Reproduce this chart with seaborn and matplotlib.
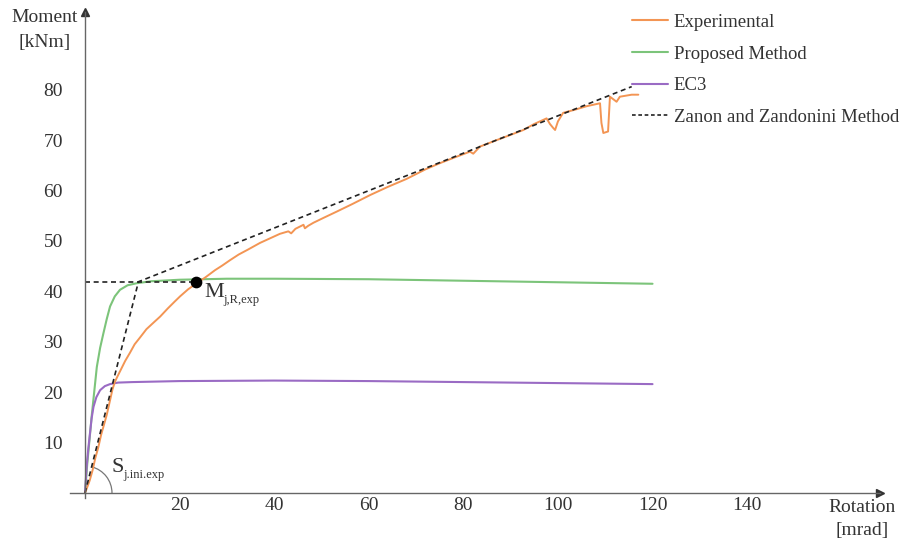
import numpy as np
import pandas as pd
import matplotlib
matplotlib.use("Agg")
import matplotlib.pyplot as plt
from matplotlib.lines import Line2D
from matplotlib.patches import Arc
from matplotlib.ticker import MultipleLocator
import seaborn as sns

# ---------------- data ----------------
exp_rot = [0, 0.5, 1.0, 1.6, 2.2, 2.8, 3.4, 4.0, 4.6, 5.3, 5.8, 6.3, 6.8, 7.6, 8.5,
           9.5, 10.5, 11.6, 13.0, 14.5, 15.9, 17.5, 19.0, 20.1, 21.8, 23.6, 25.5,
           27.5, 29.0, 30.7, 32.5, 34.5, 37.0, 39.1, 41.2, 43.0, 43.6, 44.5, 46.2,
           46.5, 47.2, 48.3, 50.5, 53.2, 56.5, 60.3, 64.0, 68.0, 72.0, 75.0, 78.0,
           81.4, 82.1, 83.5, 86.5, 89.9, 92.7, 95.0, 97.6, 98.3, 99.0, 99.4, 100.0,
           101.1, 103.5, 106.0, 108.9, 109.2, 109.6, 110.6, 111.0, 112.4, 113.1,
           115.6, 117.0]
exp_mom = [0, 1.2, 2.5, 4.5, 7.0, 9.0, 11.5, 13.5, 15.5, 18.4, 20.5, 22.0, 23.0,
           24.5, 26.2, 27.8, 29.5, 30.8, 32.5, 33.8, 35.0, 36.6, 38.0, 39.0, 40.4,
           41.6, 42.8, 44.2, 45.1, 46.2, 47.3, 48.3, 49.6, 50.5, 51.4, 51.9, 51.5,
           52.4, 53.2, 52.5, 53.0, 53.6, 54.6, 55.8, 57.3, 59.1, 60.7, 62.3, 64.2,
           65.4, 66.5, 67.7, 67.3, 68.7, 69.8, 71.0, 72.0, 73.2, 74.3, 73.2, 72.4,
           72.0, 73.7, 75.4, 76.0, 76.7, 77.3, 73.4, 71.4, 71.7, 78.6, 77.6, 78.6,
           79.0, 79.0]

prop_rot = [0, 0.5, 1.0, 1.4, 2.0, 2.5, 3.2, 3.9, 4.6, 5.3, 6.3, 7.4, 9.0, 10.9,
            14.0, 20.0, 30.0, 40.0, 60.0, 80.0, 100.0, 120.0]
prop_mom = [0, 6.0, 11.0, 15.1, 20.5, 25.0, 28.8, 31.7, 34.5, 37.0, 39.0, 40.3,
            41.2, 41.6, 42.0, 42.3, 42.5, 42.5, 42.4, 42.1, 41.8, 41.5]

ec3_rot = [0, 0.35, 0.7, 1.06, 1.4, 1.8, 2.4, 3.2, 4.2, 5.3, 7.0, 10.0, 20.0,
           40.0, 60.0, 80.0, 100.0, 120.0]
ec3_mom = [0, 5.2, 8.8, 11.9, 14.8, 17.1, 19.0, 20.4, 21.2, 21.6, 21.9, 22.0,
           22.2, 22.3, 22.2, 22.0, 21.8, 21.6]

zz_rot = [0, 11.3, 115.6]
zz_mom = [0, 41.9, 80.6]
mjr_rot = [0, 23.5]
mjr_mom = [41.9, 41.9]
mjr_point = (23.5, 41.8)

labels = ["Experimental", "Proposed Method", "EC3", "Zanon and Zandonini Method"]
x_ticks = [20, 40, 60, 80, 100, 120, 140]
y_ticks = [10, 20, 30, 40, 50, 60, 70, 80]

# ---------------- style ----------------
sns.set_style("white")
plt.rcParams["font.family"] = ["Liberation Serif", "DejaVu Serif"]

c_exp = "#F39554"
c_prop = "#7CC47A"
c_ec3 = "#9A6BC4"
c_axis = "#666666"
c_text = "#333333"

W, H = 906, 542
fig = plt.figure(figsize=(W / 100, H / 100), dpi=100)
# axes box in pixels: left 70, right 880, bottom 498, top 12
ax = fig.add_axes([70 / W, (H - 498) / H, 810 / W, 486 / H])
ax.set_xlim(-3.17, 168.1)
ax.set_ylim(-0.99, 95.4)

df_exp = pd.DataFrame({"rot": exp_rot, "mom": exp_mom})
df_prop = pd.DataFrame({"rot": prop_rot, "mom": prop_mom})
df_ec3 = pd.DataFrame({"rot": ec3_rot, "mom": ec3_mom})
df_zz = pd.DataFrame({"rot": zz_rot, "mom": zz_mom})
df_mjr = pd.DataFrame({"rot": mjr_rot, "mom": mjr_mom})

dash = (3.0, 2.2)
sns.lineplot(data=df_prop, x="rot", y="mom", ax=ax, color=c_prop, lw=1.5,
             sort=False, estimator=None)
sns.lineplot(data=df_ec3, x="rot", y="mom", ax=ax, color=c_ec3, lw=1.5,
             sort=False, estimator=None)
sns.lineplot(data=df_exp, x="rot", y="mom", ax=ax, color=c_exp, lw=1.4,
             sort=False, estimator=None)
sns.lineplot(data=df_zz, x="rot", y="mom", ax=ax, color="#222222", lw=1.2,
             sort=False, estimator=None, linestyle=(0, dash))
sns.lineplot(data=df_mjr, x="rot", y="mom", ax=ax, color="#222222", lw=1.2,
             sort=False, estimator=None, linestyle=(0, dash))
ax.scatter([mjr_point[0]], [mjr_point[1]], s=55, color="black", zorder=5)

# angle arc for initial stiffness
ax.add_patch(Arc((0, 0), width=2 * 27 / 4.73, height=2 * 27 / 5.04,
                 theta1=0, theta2=75, color="#777777", lw=0.9))

# labels with subscripts (main letter + smaller subscript text)
ax.text(25.2, 38.9, "M", fontsize=16, color=c_text, ha="left", va="baseline")
ax.text(29.2, 37.7, "j,R,exp", fontsize=9, color=c_text, ha="left", va="baseline")
ax.text(5.5, 4.2, "S", fontsize=16, color=c_text, ha="left", va="baseline")
ax.text(8.0, 2.9, "j.ini.exp", fontsize=9, color=c_text, ha="left", va="baseline")

# axes styling
for s in ["top", "right"]:
    ax.spines[s].set_visible(False)
ax.spines["left"].set_position(("data", 0))
ax.spines["bottom"].set_position(("data", 0))
for s in ["left", "bottom"]:
    ax.spines[s].set_color(c_axis)
    ax.spines[s].set_linewidth(1.0)
ax.plot(1, 0, ">", color="#333333", ms=6, transform=ax.get_yaxis_transform(),
        clip_on=False)
ax.plot(0, 1, "^", color="#333333", ms=6, transform=ax.get_xaxis_transform(),
        clip_on=False)

ax.set_xticks(x_ticks)
ax.set_yticks(y_ticks)
ax.xaxis.set_minor_locator(MultipleLocator(5))
ax.yaxis.set_minor_locator(MultipleLocator(5))
ax.tick_params(which="major", direction="in", length=4, width=0.8, color=c_axis,
               labelsize=14, labelcolor=c_text)
ax.tick_params(which="minor", direction="in", length=2.5, width=0.7, color=c_axis)
ax.tick_params(axis="y", which="major", pad=16)
ax.tick_params(axis="x", which="major", pad=3)
ax.set_xlabel("")
ax.set_ylabel("")

fig.text(45 / W, 1 - 18 / H, "Moment", fontsize=14, color=c_text,
         ha="center", va="center")
fig.text(45 / W, 1 - 43 / H, "[kNm]", fontsize=14, color=c_text,
         ha="center", va="center")
fig.text(862 / W, 1 - 507 / H, "Rotation", fontsize=14, color=c_text,
         ha="center", va="center")
fig.text(862 / W, 1 - 530 / H, "[mrad]", fontsize=14, color=c_text,
         ha="center", va="center")

handles = [Line2D([], [], color=c_exp, lw=1.5),
           Line2D([], [], color=c_prop, lw=1.5),
           Line2D([], [], color=c_ec3, lw=1.5),
           Line2D([], [], color="#222222", lw=1.2, linestyle=(0, (2.2, 1.6)))]
leg = fig.legend(handles, labels, loc="upper left",
                 bbox_to_anchor=(628 / W, 1 - 10 / H), frameon=False,
                 fontsize=13.5, handlelength=1.95, handletextpad=0.3,
                 labelspacing=0.775, borderaxespad=0, borderpad=0.2)
for t in leg.get_texts():
    t.set_color(c_text)

fig.savefig("out.png", dpi=100)
